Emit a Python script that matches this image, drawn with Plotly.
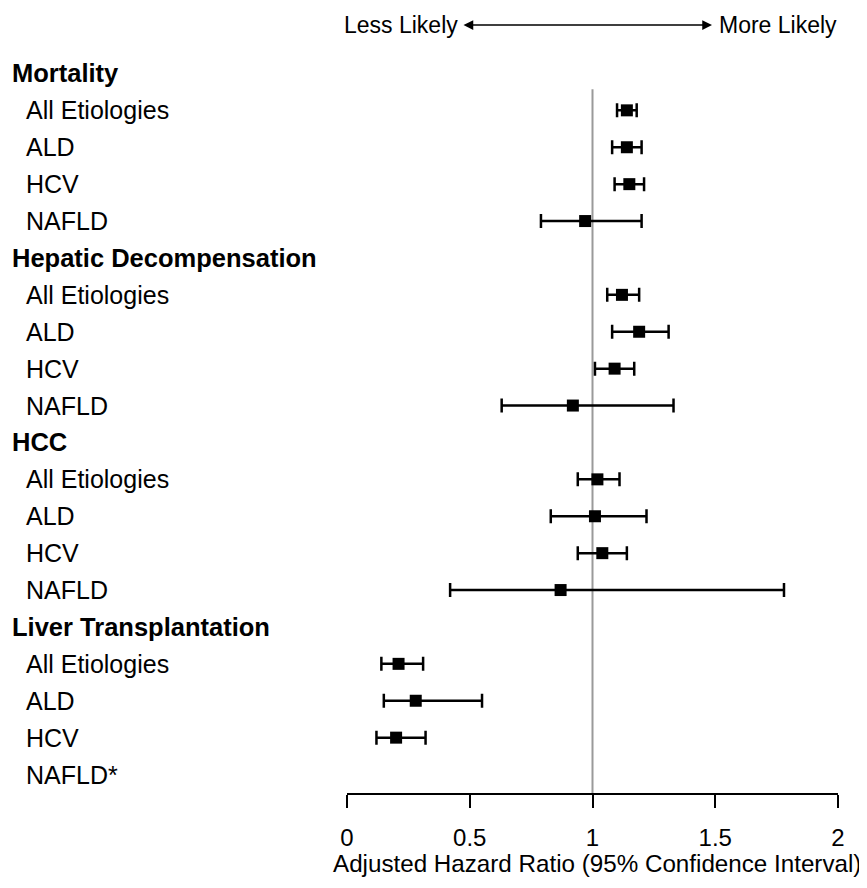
import plotly.graph_objects as go

# ---------------- data ----------------
row_labels = [
    "Mortality", "All Etiologies", "ALD", "HCV", "NAFLD",
    "Hepatic Decompensation", "All Etiologies", "ALD", "HCV", "NAFLD",
    "HCC", "All Etiologies", "ALD", "HCV", "NAFLD",
    "Liver Transplantation", "All Etiologies", "ALD", "HCV", "NAFLD*",
]
is_header = [True, False, False, False, False,
             True, False, False, False, False,
             True, False, False, False, False,
             True, False, False, False, False]

hr =    [None, 1.14, 1.14, 1.15, 0.97,
         None, 1.12, 1.19, 1.09, 0.92,
         None, 1.02, 1.01, 1.04, 0.87,
         None, 0.21, 0.28, 0.20, None]
lower = [None, 1.10, 1.08, 1.09, 0.79,
         None, 1.06, 1.08, 1.01, 0.63,
         None, 0.94, 0.83, 0.94, 0.42,
         None, 0.14, 0.15, 0.12, None]
upper = [None, 1.18, 1.20, 1.21, 1.20,
         None, 1.19, 1.31, 1.17, 1.33,
         None, 1.11, 1.22, 1.14, 1.78,
         None, 0.31, 0.55, 0.32, None]

x_ticks = [0, 0.5, 1, 1.5, 2]
x_tick_labels = ["0", "0.5", "1", "1.5", "2"]
x_title = "Adjusted Hazard Ratio (95% Confidence Interval)"
less_label = "Less Likely"
more_label = "More Likely"

# ---------------- figure ----------------
FONT = "Liberation Sans, Arial, Helvetica, sans-serif"

xs, ys, ep, em = [], [], [], []
for i, (h, lo, up) in enumerate(zip(hr, lower, upper)):
    if h is None:
        continue
    xs.append(h)
    ys.append(i)
    ep.append(up - h)
    em.append(h - lo)

fig = go.Figure()
fig.add_trace(go.Scatter(
    x=xs, y=ys, mode="markers",
    marker=dict(symbol="square", size=12, color="black"),
    error_x=dict(type="data", symmetric=False, array=ep, arrayminus=em,
                 color="black", thickness=2.5, width=7),
    showlegend=False, hoverinfo="x+y",
))

# reference line at HR = 1
fig.add_shape(type="line", xref="x", yref="y", x0=1, x1=1, y0=0.43, y1=19.5,
              line=dict(color="#9a9a9a", width=2), layer="below")

OFF = 8  # page body margin
W, H = 867 - OFF, 888 - OFF
L = 347 - OFF
T = 55 - OFF
R = W - (838 - OFF)
B = H - (793 - OFF)
pw = W - L - R
ph = H - T - B


def sx(px):
    """screen x pixel -> paper x"""
    return (px - OFF - L) / pw


def sy(py):
    """screen y pixel -> paper y"""
    return (H - B - (py - OFF)) / ph


annotations = []
for i, (lab, hdr) in enumerate(zip(row_labels, is_header)):
    annotations.append(dict(
        x=sx((12 if hdr else 26) - 2), xref="paper", y=i, yref="y",
        text=f"<b>{lab}</b>" if hdr else lab, showarrow=False,
        xanchor="left", yanchor="middle",
        font=dict(family=FONT, size=25.5 if hdr else 25, color="black"),
    ))

# x-axis title
annotations.append(dict(
    x=sx(597), xref="paper", y=sy(864), yref="paper",
    text=x_title, showarrow=False, xanchor="center", yanchor="middle",
    font=dict(family=FONT, size=24.2, color="black"),
))

# top direction labels
ytop = sy(25)
annotations.append(dict(
    x=sx(460), xref="paper", y=ytop, yref="paper",
    text=less_label, showarrow=False, xanchor="right", yanchor="middle",
    font=dict(family=FONT, size=23, color="black"),
))
annotations.append(dict(
    x=sx(717), xref="paper", y=ytop, yref="paper",
    text=more_label, showarrow=False, xanchor="left", yanchor="middle",
    font=dict(family=FONT, size=23, color="black"),
))
annotations.append(dict(
    x=sx(712), xref="paper", y=ytop, yref="paper",
    ax=-250, ay=0, axref="pixel", ayref="pixel",
    text="", showarrow=True, arrowside="end+start",
    arrowhead=2, arrowsize=1.3, arrowwidth=1.5, arrowcolor="black",
    standoff=0, startstandoff=0,
))

fig.update_layout(
    width=W, height=H,
    margin=dict(l=L, r=R, t=T, b=B, pad=0),
    plot_bgcolor="white", paper_bgcolor="white",
    font=dict(family=FONT, size=24, color="black"),
    annotations=annotations,
    xaxis=dict(
        range=[0, 2], tickvals=x_ticks, ticktext=x_tick_labels,
        showgrid=False, zeroline=False, showline=True, linecolor="black",
        linewidth=1.5, ticks="outside", ticklen=13, tickwidth=1.5,
        tickcolor="black", ticklabelstandoff=9,
        tickfont=dict(family=FONT, size=24, color="black"),
    ),
    yaxis=dict(
        range=[19.5, -0.5], showgrid=False, zeroline=False,
        showticklabels=False, showline=False, ticks="",
    ),
)

fig.write_html("out.html")
